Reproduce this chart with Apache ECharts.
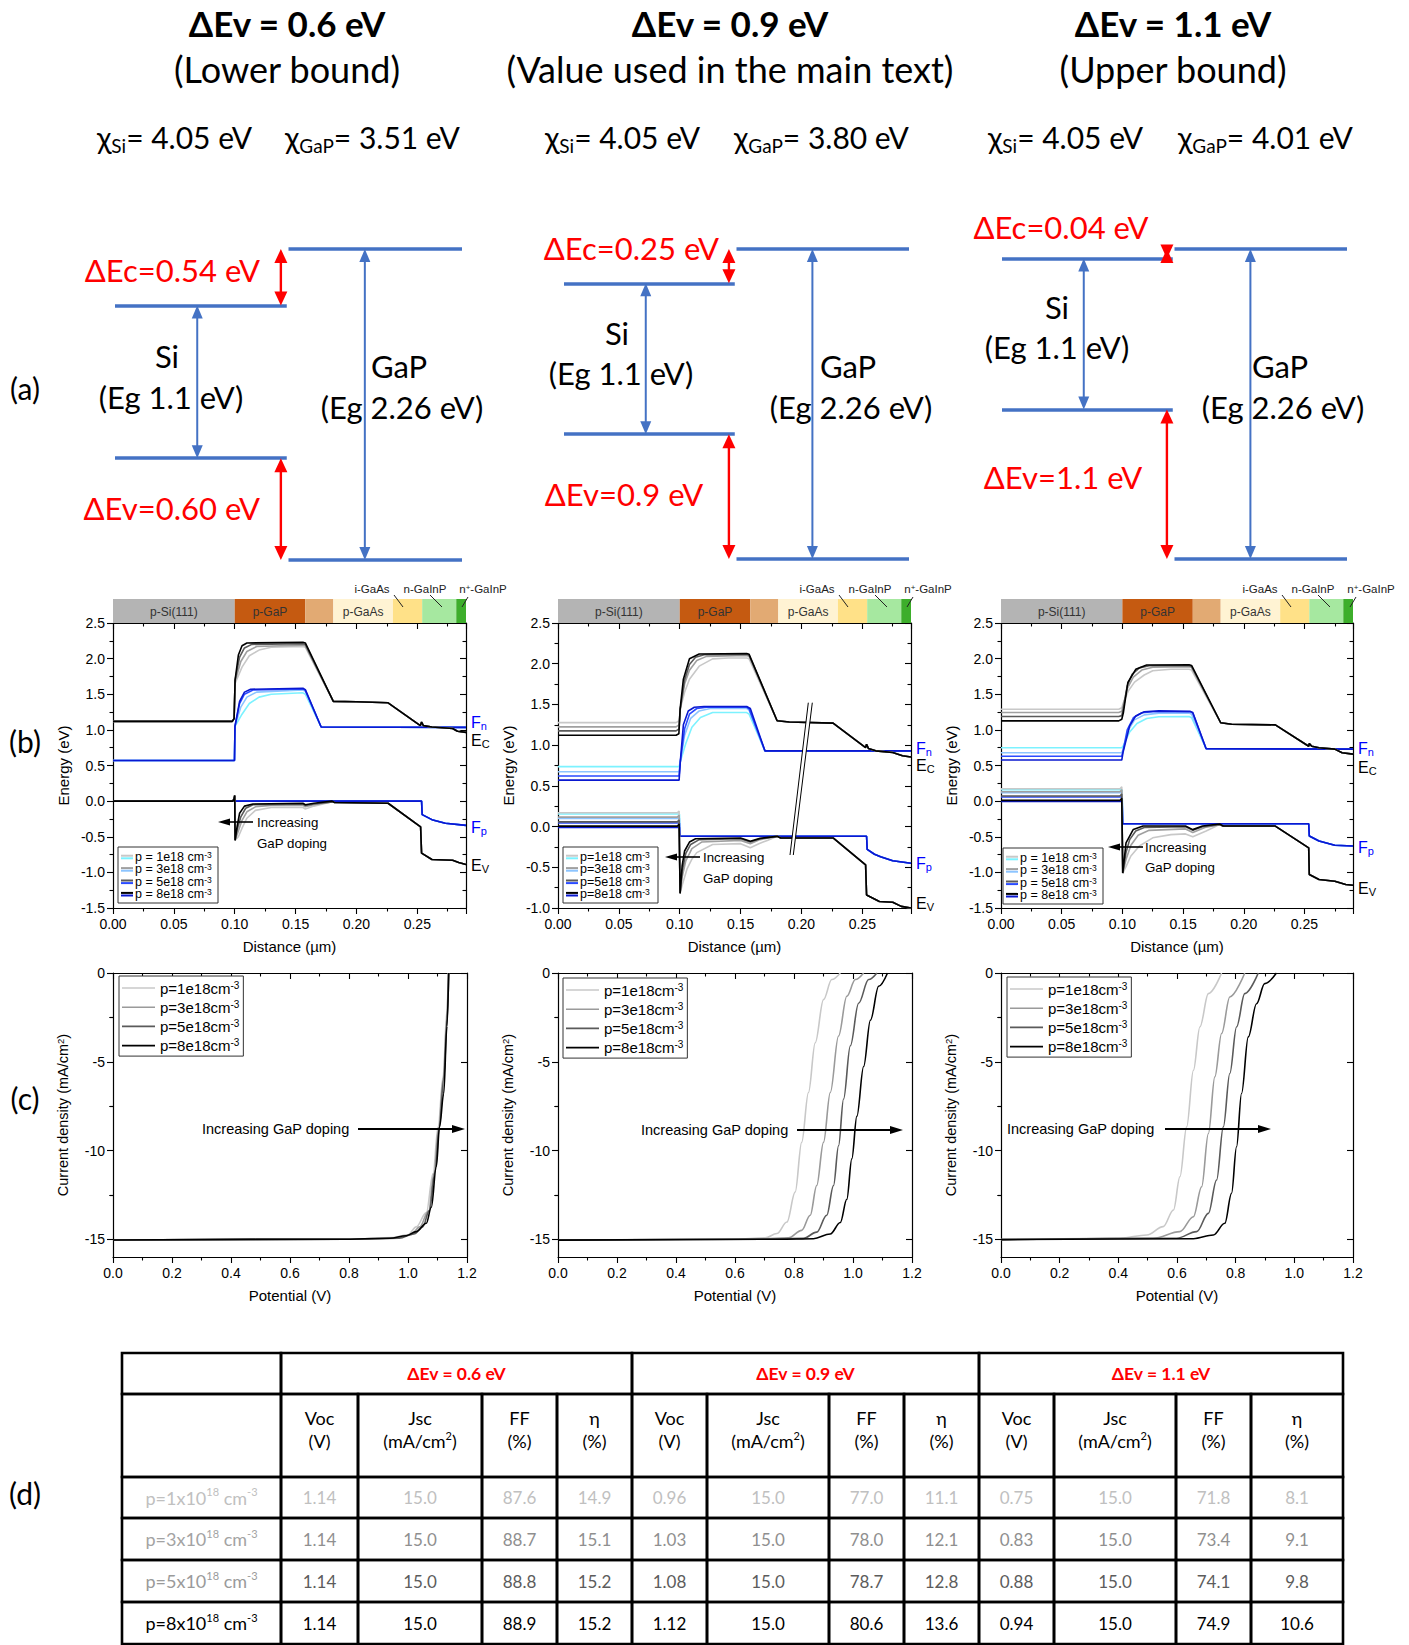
<!DOCTYPE html>
<html>
<head>
<meta charset="utf-8">
<title>Si/GaP band offsets</title>
<script src="https://cdn.jsdelivr.net/npm/echarts@6/dist/echarts.min.js"></script>
<style>
html,body{margin:0;padding:0;background:#fff;}
#chart{width:1409px;height:1645px;}
</style>
</head>
<body>
<div id="chart"></div>
<script>
// ======================= DATA =======================
// (a) band alignment schematics
const caseTitles = ['ΔEv = 0.6 eV', 'ΔEv = 0.9 eV', 'ΔEv = 1.1 eV'];
const caseNotes = ['(Lower bound)', '(Value used in the main text)', '(Upper bound)'];
const chiSi = ['4.05', '4.05', '4.05'];
const chiGaP = ['3.51', '3.80', '4.01'];
const dEcLabels = ['0.54', '0.25', '0.04'];
const dEvLabels = ['0.60', '0.9', '1.1'];
const egSiLabel = '1.1';
const egGaPLabel = '2.26';
const gapGaP = 2.26;                 // GaP CB above GaP VB (eV)
const siCBLevel = [1.85, 2.01, 2.19]; // Si CB as drawn (eV above GaP VB)
const siVBLevel = [0.74, 0.91, 1.09]; // Si VB as drawn (eV above GaP VB)

// (b) band diagrams
const dopings = ['1e18', '3e18', '5e18', '8e18'];
const layerNames = ['p-Si(111)', 'p-GaP', '', 'p-GaAs', '', '', ''];
const layerEdges = [0, 0.1, 0.158, 0.181, 0.23, 0.254, 0.282, 0.29];

// ΔEv = 0.6 eV
const ecHead06 = [
  [[0,1.12],[0.098,1.12],[0.0995,1.16],[0.1003,1.65],[0.106,1.88],[0.112,2.04],[0.12,2.12],[0.13,2.16],[0.156,2.17],[0.158,2.16]],
  [[0,1.12],[0.098,1.12],[0.0995,1.16],[0.1003,1.68],[0.105,1.96],[0.11,2.10],[0.118,2.17],[0.156,2.19],[0.158,2.18]],
  [[0,1.12],[0.098,1.12],[0.0995,1.16],[0.1003,1.70],[0.104,2.02],[0.108,2.15],[0.114,2.20],[0.156,2.21],[0.158,2.20]],
  [[0,1.12],[0.098,1.12],[0.0995,1.16],[0.1003,1.70],[0.103,2.05],[0.106,2.18],[0.11,2.22],[0.156,2.23],[0.158,2.22]]
];
const ecTail06 = [[0.181,1.40],[0.2,1.395],[0.226,1.38],[0.2525,1.06],[0.2535,1.11],[0.255,1.06],[0.262,1.04],[0.279,1.02],[0.283,0.98],[0.29,0.965]];
const fnHead06 = [
  [[0,0.57],[0.0998,0.57],[0.1002,1.05],[0.106,1.22],[0.112,1.37],[0.12,1.46],[0.13,1.50],[0.156,1.52],[0.158,1.50]],
  [[0,0.57],[0.0998,0.57],[0.1002,1.05],[0.105,1.32],[0.11,1.46],[0.118,1.53],[0.156,1.56],[0.158,1.54]],
  [[0,0.57],[0.0998,0.57],[0.1002,1.05],[0.104,1.37],[0.108,1.50],[0.115,1.56],[0.156,1.575],[0.158,1.555]],
  [[0,0.57],[0.0998,0.57],[0.1002,1.05],[0.104,1.40],[0.108,1.53],[0.113,1.57],[0.156,1.585],[0.158,1.565]]
];
const fnTail06 = [[0.171,1.04],[0.29,1.035]];
const evHead06 = [
  [[0,0],[0.0985,0],[0.0995,0.04],[0.1,0.08],[0.1003,-0.55],[0.103,-0.50],[0.106,-0.38],[0.11,-0.24],[0.117,-0.13],[0.13,-0.09],[0.156,-0.09],[0.158,-0.11],[0.165,-0.07],[0.18,-0.01]],
  [[0,0],[0.0985,0],[0.0995,0.04],[0.1,0.08],[0.1003,-0.55],[0.103,-0.42],[0.106,-0.27],[0.11,-0.15],[0.117,-0.08],[0.13,-0.06],[0.156,-0.06],[0.158,-0.08],[0.165,-0.05],[0.18,-0.01]],
  [[0,0],[0.0985,0],[0.0995,0.04],[0.1,0.08],[0.1003,-0.55],[0.102,-0.40],[0.105,-0.22],[0.109,-0.10],[0.115,-0.05],[0.156,-0.04],[0.158,-0.06],[0.165,-0.04],[0.18,-0.01]],
  [[0,0],[0.0985,0],[0.0995,0.04],[0.1,0.08],[0.1003,-0.55],[0.102,-0.35],[0.104,-0.17],[0.108,-0.07],[0.115,-0.04],[0.156,-0.03],[0.158,-0.05],[0.165,-0.03],[0.18,0.0]]
];
const evTail06 = [[0.182,-0.02],[0.226,-0.03],[0.2527,-0.36],[0.2535,-0.73],[0.262,-0.82],[0.279,-0.83],[0.284,-0.86],[0.29,-0.89]];
const fpHead06 = [[[0,0],[0.0998,0]],[[0,0],[0.0998,0]],[[0,0],[0.0998,0]],[[0,0],[0.0998,0]]];
const fpTail06 = [[0.1002,0],[0.2535,0],[0.254,-0.19],[0.262,-0.26],[0.273,-0.31],[0.29,-0.34]];

// ΔEv = 0.9 eV
const ecHead09 = [
  [[0,1.277],[0.097,1.277],[0.0995,1.30],[0.1005,1.45],[0.104,1.65],[0.108,1.81],[0.116,1.97],[0.127,2.06],[0.14,2.07],[0.155,2.07],[0.157,2.06]],
  [[0,1.224],[0.097,1.224],[0.0995,1.25],[0.1005,1.45],[0.104,1.75],[0.108,1.92],[0.114,2.04],[0.122,2.09],[0.155,2.10],[0.157,2.09]],
  [[0,1.175],[0.097,1.175],[0.0995,1.20],[0.1005,1.45],[0.104,1.80],[0.108,1.99],[0.113,2.08],[0.12,2.11],[0.155,2.115],[0.157,2.105]],
  [[0,1.121],[0.097,1.121],[0.0993,1.14],[0.1003,1.44],[0.103,1.81],[0.108,2.06],[0.116,2.12],[0.155,2.125],[0.157,2.115]]
];
const ecTail09 = [[0.18,1.30],[0.19,1.285],[0.226,1.27],[0.2527,0.97],[0.2535,1.01],[0.255,0.96],[0.261,0.93],[0.275,0.91],[0.283,0.87],[0.29,0.855]];
const fnHead09 = [
  [[0,0.736],[0.0995,0.736],[0.1005,0.80],[0.105,1.02],[0.11,1.22],[0.117,1.34],[0.127,1.40],[0.155,1.40],[0.157,1.38]],
  [[0,0.674],[0.0995,0.674],[0.1005,0.80],[0.104,1.12],[0.109,1.33],[0.116,1.42],[0.125,1.45],[0.155,1.45],[0.157,1.43]],
  [[0,0.621],[0.0995,0.621],[0.1005,0.80],[0.104,1.20],[0.108,1.38],[0.114,1.45],[0.122,1.465],[0.155,1.465],[0.157,1.445]],
  [[0,0.571],[0.0995,0.571],[0.1005,0.80],[0.103,1.25],[0.107,1.42],[0.112,1.465],[0.12,1.475],[0.155,1.475],[0.158,1.45]]
];
const fnTail09 = [[0.17,0.93],[0.29,0.93]];
const evHead09 = [
  [[0,0.169],[0.098,0.169],[0.0995,0.19],[0.1003,-0.82],[0.102,-0.72],[0.106,-0.52],[0.11,-0.40],[0.114,-0.32],[0.127,-0.22],[0.15,-0.21],[0.158,-0.26],[0.165,-0.21],[0.172,-0.17],[0.18,-0.12]],
  [[0,0.116],[0.098,0.116],[0.0995,0.14],[0.1003,-0.82],[0.102,-0.62],[0.105,-0.42],[0.11,-0.27],[0.118,-0.19],[0.15,-0.17],[0.158,-0.21],[0.166,-0.16],[0.18,-0.12]],
  [[0,0.058],[0.098,0.058],[0.0995,0.08],[0.1003,-0.82],[0.102,-0.55],[0.105,-0.33],[0.109,-0.22],[0.116,-0.16],[0.15,-0.15],[0.158,-0.19],[0.166,-0.15],[0.18,-0.12]],
  [[0,0.005],[0.098,0.005],[0.0995,0.03],[0.1003,-0.82],[0.102,-0.48],[0.104,-0.30],[0.108,-0.19],[0.113,-0.15],[0.15,-0.14],[0.158,-0.18],[0.166,-0.145],[0.18,-0.12]]
];
const evTail09 = [[0.183,-0.14],[0.226,-0.14],[0.2527,-0.47],[0.2535,-0.84],[0.264,-0.92],[0.275,-0.93],[0.282,-0.98],[0.29,-1.0]];
const fpHead09 = [[[0,0.154],[0.0998,0.154]],[[0,0.101],[0.0998,0.101]],[[0,0.043],[0.0998,0.043]],[[0,-0.01],[0.0998,-0.01]]];
const fpTail09 = [[0.1002,-0.118],[0.2535,-0.118],[0.254,-0.28],[0.26,-0.34],[0.265,-0.37],[0.275,-0.42],[0.29,-0.45]];

// ΔEv = 1.1 eV
const ecHead11 = [
  [[0,1.29],[0.097,1.29],[0.0995,1.31],[0.1008,1.38],[0.105,1.55],[0.11,1.67],[0.118,1.77],[0.125,1.83],[0.14,1.85],[0.155,1.85],[0.157,1.84]],
  [[0,1.243],[0.097,1.243],[0.0995,1.26],[0.1008,1.35],[0.104,1.58],[0.109,1.74],[0.116,1.84],[0.125,1.88],[0.155,1.885],[0.157,1.875]],
  [[0,1.187],[0.097,1.187],[0.0995,1.20],[0.1008,1.30],[0.104,1.62],[0.108,1.78],[0.114,1.87],[0.122,1.90],[0.155,1.90],[0.157,1.89]],
  [[0,1.126],[0.097,1.126],[0.0995,1.15],[0.1008,1.24],[0.1045,1.665],[0.111,1.85],[0.12,1.91],[0.155,1.915],[0.157,1.905]]
];
const ecTail11 = [[0.181,1.10],[0.19,1.08],[0.226,1.07],[0.2535,0.77],[0.254,0.81],[0.256,0.77],[0.262,0.75],[0.275,0.73],[0.281,0.68],[0.29,0.66]];
const fnHead11 = [
  [[0,0.75],[0.0995,0.75],[0.1005,0.77],[0.106,0.97],[0.112,1.09],[0.12,1.16],[0.13,1.185],[0.155,1.187],[0.157,1.17]],
  [[0,0.68],[0.0995,0.68],[0.1005,0.72],[0.105,1.0],[0.11,1.14],[0.118,1.21],[0.13,1.235],[0.155,1.235],[0.157,1.22]],
  [[0,0.63],[0.0995,0.63],[0.1005,0.70],[0.104,1.0],[0.109,1.17],[0.116,1.24],[0.125,1.255],[0.156,1.255],[0.158,1.235]],
  [[0,0.577],[0.0995,0.577],[0.1005,0.68],[0.106,1.056],[0.111,1.196],[0.118,1.255],[0.13,1.267],[0.156,1.26],[0.158,1.243]]
];
const fnTail11 = [[0.169,0.735],[0.29,0.73]];
const evHead11 = [
  [[0,0.174],[0.098,0.174],[0.0995,0.20],[0.1003,-1.01],[0.103,-0.92],[0.107,-0.77],[0.114,-0.63],[0.125,-0.515],[0.14,-0.47],[0.152,-0.46],[0.158,-0.50],[0.169,-0.42],[0.18,-0.33]],
  [[0,0.132],[0.098,0.132],[0.0995,0.16],[0.1003,-1.01],[0.103,-0.82],[0.107,-0.62],[0.113,-0.48],[0.122,-0.41],[0.152,-0.39],[0.158,-0.44],[0.168,-0.37],[0.18,-0.33]],
  [[0,0.071],[0.098,0.071],[0.0995,0.10],[0.1003,-1.01],[0.103,-0.72],[0.106,-0.54],[0.111,-0.42],[0.118,-0.37],[0.152,-0.36],[0.158,-0.41],[0.166,-0.36],[0.18,-0.33]],
  [[0,0.010],[0.098,0.010],[0.0995,0.04],[0.1003,-1.01],[0.103,-0.586],[0.109,-0.398],[0.117,-0.35],[0.152,-0.35],[0.158,-0.40],[0.166,-0.35],[0.18,-0.32]]
];
const evTail11 = [[0.183,-0.35],[0.226,-0.35],[0.2535,-0.656],[0.254,-1.03],[0.262,-1.10],[0.275,-1.125],[0.284,-1.17],[0.29,-1.18]];
const fpHead11 = [[[0,0.16],[0.0998,0.16]],[[0,0.117],[0.0998,0.117]],[[0,0.057],[0.0998,0.057]],[[0,-0.005],[0.0998,-0.005]]];
const fpTail11 = [[0.1002,-0.318],[0.2535,-0.318],[0.254,-0.49],[0.262,-0.56],[0.275,-0.62],[0.29,-0.63]];

// (c) J-V curves  [V, mA/cm2]
const jv06 = [
  [[0,-15.04],[0.8,-15.0],[0.95,-14.9],[1.0,-14.75],[1.028,-14.3],[1.062,-13.5],[1.085,-11.3],[1.102,-8.66],[1.119,-5.85],[1.132,-2.1],[1.137,0]],
  [[0,-15.04],[0.8,-15.0],[0.96,-14.93],[1.01,-14.75],[1.04,-14.3],[1.07,-13.4],[1.088,-11.3],[1.104,-8.7],[1.12,-5.9],[1.132,-2.5],[1.137,0]],
  [[0,-15.04],[0.8,-15.0],[0.97,-14.94],[1.02,-14.7],[1.05,-14.3],[1.072,-13.4],[1.092,-11.2],[1.106,-8.7],[1.121,-6.0],[1.133,-2.6],[1.138,0]],
  [[0,-15.04],[0.768,-15.0],[0.938,-14.94],[0.994,-14.8],[1.028,-14.57],[1.062,-14.1],[1.079,-13.2],[1.096,-10.9],[1.107,-8.66],[1.121,-6.8],[1.132,-3.0],[1.138,0]]
];
const jv09 = [
  [[0,-15.05],[0.6,-15.0],[0.702,-14.92],[0.742,-14.68],[0.776,-14.03],[0.804,-12.34],[0.826,-9.54],[0.849,-6.73],[0.872,-3.93],[0.9,-1.5],[0.928,-0.37],[0.957,0]],
  [[0,-15.05],[0.65,-15.0],[0.781,-14.92],[0.826,-14.5],[0.855,-13.65],[0.877,-11.97],[0.9,-9.54],[0.923,-6.73],[0.951,-3.55],[0.979,-1.31],[1.008,-0.37],[1.036,0]],
  [[0,-15.05],[0.7,-15.0],[0.832,-14.95],[0.877,-14.6],[0.911,-13.65],[0.934,-11.97],[0.951,-9.73],[0.968,-7.1],[0.991,-4.1],[1.019,-1.7],[1.053,-0.37],[1.081,0]],
  [[0,-15.05],[0.75,-15.0],[0.866,-14.97],[0.923,-14.7],[0.957,-14.06],[0.979,-12.75],[0.996,-10.47],[1.013,-8.08],[1.036,-5.27],[1.059,-2.66],[1.087,-0.75],[1.117,0]]
];
const jv11 = [
  [[0,-15.02],[0.406,-14.94],[0.497,-14.76],[0.553,-14.29],[0.588,-13.35],[0.61,-11.48],[0.633,-8.66],[0.656,-5.48],[0.678,-3.04],[0.707,-1.16],[0.752,0]],
  [[0,-15.02],[0.519,-14.94],[0.61,-14.57],[0.656,-13.73],[0.684,-12.04],[0.707,-9.04],[0.729,-5.85],[0.752,-3.41],[0.78,-1.35],[0.831,0]],
  [[0,-15.02],[0.599,-14.94],[0.667,-14.57],[0.707,-13.54],[0.735,-11.66],[0.758,-8.66],[0.78,-5.66],[0.803,-3.04],[0.831,-1.16],[0.877,0]],
  [[0,-15.02],[0.656,-14.97],[0.724,-14.76],[0.763,-14.1],[0.786,-12.41],[0.803,-9.79],[0.82,-6.79],[0.843,-3.6],[0.871,-1.73],[0.899,-0.6],[0.939,0]]
];

// (d) table
const tableDopingMant = ['1', '3', '5', '8'];
const voc06 = [1.14, 1.14, 1.14, 1.14], jsc06 = [15.0, 15.0, 15.0, 15.0], ff06 = [87.6, 88.7, 88.8, 88.9], eta06 = [14.9, 15.1, 15.2, 15.2];
const voc09 = [0.96, 1.03, 1.08, 1.12], jsc09 = [15.0, 15.0, 15.0, 15.0], ff09 = [77.0, 78.0, 78.7, 80.6], eta09 = [11.1, 12.1, 12.8, 13.6];
const voc11 = [0.75, 0.83, 0.88, 0.94], jsc11 = [15.0, 15.0, 15.0, 15.0], ff11 = [71.8, 73.4, 74.1, 74.9], eta11 = [8.1, 9.1, 9.8, 10.6];

// ======================= LAYOUT / STYLE =======================
const FP = "'Liberation Sans', Arial, Helvetica, sans-serif";
const FT = "Lato, 'Open Sans', 'Noto Sans', sans-serif";
const greyCols = ['#c8c8c8', '#a0a0a0', '#5a5a5a', '#000000'];
const blueCols = ['#7cf2ff', '#8cc4ff', '#2a4bff', '#0a18d0'];
const jvCols = ['#c8c8c8', '#9a9a9a', '#5a5a5a', '#000000'];
const layerCols = ['#b4b4b4', '#c55a11', '#e2aa73', '#fff3d3', '#ffe188', '#a6e8a0', '#3dae2b'];
const aGrid = [{left:115, width:347}, {left:564, width:345}, {left:1002, width:345}];
const bGrid = [{left:113, width:353}, {left:558, width:353}, {left:1001, width:352}];
const cGrid = [{left:113, width:354}, {left:558, width:354}, {left:1001, width:352}];
const bYMin = [-1.5, -1.0, -1.5];

const option = {animation:false, backgroundColor:'#fff', grid:[], xAxis:[], yAxis:[], series:[], legend:[], graphic:{elements:[]}};
const G = option.graphic.elements;
function addGrid(r){ option.grid.push(Object.assign({show:false, containLabel:false}, r)); return option.grid.length - 1; }
function addX(c){ option.xAxis.push(c); return option.xAxis.length - 1; }
function addY(c){ option.yAxis.push(c); return option.yAxis.length - 1; }
function txt(x, y, text, st){ G.push({type:'text', x:x, y:y, z:60, silent:true, style:Object.assign({text:text, fill:'#000', fontFamily:FT, fontSize:31, align:'center', verticalAlign:'middle'}, st || {})}); }
function seg(x1, y1, x2, y2, st){ G.push({type:'line', z:60, silent:true, shape:{x1:x1, y1:y1, x2:x2, y2:y2}, style:Object.assign({stroke:'#000', lineWidth:1}, st || {})}); }
function poly(pts, st){ G.push({type:'polygon', z:60, silent:true, shape:{points:pts}, style:Object.assign({fill:'#000'}, st || {})}); }
function box(x, y, w, h, st){ G.push({type:'rect', z:55, silent:true, shape:{x:x, y:y, width:w, height:h}, style:Object.assign({fill:'#fff', stroke:'#333', lineWidth:1}, st || {})}); }
function hiddenAxes(gi, xmin, xmax, ymin, ymax, inv){
  return {xi:addX({gridIndex:gi, type:'value', min:xmin, max:xmax, show:false}),
          yi:addY({gridIndex:gi, type:'value', min:ymin, max:ymax, show:false, inverse:!!inv})};
}
const lineSt = {color:'#000', width:1.2};
const tickSt = {color:'#000', width:1.1};
const labSt = {color:'#000', fontSize:14, fontFamily:FP};
function frameAxes(gi, o){
  const common = {gridIndex:gi, type:'value', splitLine:{show:false}, minorSplitLine:{show:false}};
  const xi = addX(Object.assign({}, common, {position:'bottom', min:o.xmin, max:o.xmax, interval:o.xint,
    axisLine:{show:true, onZero:false, lineStyle:lineSt},
    axisTick:{show:true, inside:false, length:6, lineStyle:tickSt},
    minorTick:{show:true, splitNumber:2, length:3.5, lineStyle:tickSt},
    axisLabel:Object.assign({margin:9, formatter:o.fx, showMaxLabel:o.showMaxX}, labSt),
    name:o.xname, nameLocation:'middle', nameGap:31, nameTextStyle:{color:'#000', fontSize:15, fontFamily:FP}}));
  addX(Object.assign({}, common, {position:'top', min:o.xmin, max:o.xmax, interval:o.xint,
    axisLine:{show:true, onZero:false, lineStyle:lineSt},
    axisTick:{show:true, inside:true, length:6, lineStyle:tickSt},
    minorTick:{show:true, splitNumber:2, length:3.5, lineStyle:tickSt},
    axisLabel:{show:false}}));
  const yBase = {min:o.ymin, max:o.ymax};
  if (o.yint) yBase.interval = o.yint;
  const yi = addY(Object.assign({}, common, yBase, {position:'left',
    axisLine:{show:true, onZero:false, lineStyle:lineSt},
    axisTick:Object.assign({show:true, inside:false, length:6, lineStyle:tickSt}, o.yTicks ? {customValues:o.yTicks} : {}),
    minorTick:{show:!o.yTicks, splitNumber:2, length:3.5, lineStyle:tickSt},
    axisLabel:Object.assign({margin:8, formatter:o.fy}, labSt, o.yTicks ? {customValues:o.yTicks} : {}),
    name:o.yname, nameLocation:'middle', nameGap:o.ygap || 42,
    nameTextStyle:Object.assign({color:'#000', fontSize:15, fontFamily:FP}, o.yrich ? {rich:o.yrich} : {})}));
  addY(Object.assign({}, common, yBase, {position:'right',
    axisLine:{show:true, onZero:false, lineStyle:lineSt},
    axisTick:Object.assign({show:true, inside:true, length:6, lineStyle:tickSt}, o.yTicks ? {customValues:o.yTicks} : {}),
    minorTick:{show:!o.yTicks, splitNumber:2, length:3.5, lineStyle:tickSt},
    axisLabel:{show:false}}));
  if (o.yMinorTicks) {
    addY(Object.assign({}, common, yBase, {position:'left', axisLine:{show:false}, axisLabel:{show:false},
      axisTick:{show:true, inside:false, length:3.5, lineStyle:tickSt, customValues:o.yMinorTicks}, minorTick:{show:false}}));
    addY(Object.assign({}, common, yBase, {position:'right', axisLine:{show:false}, axisLabel:{show:false},
      axisTick:{show:true, inside:true, length:3.5, lineStyle:tickSt, customValues:o.yMinorTicks}, minorTick:{show:false}}));
  }
  return {xi:xi, yi:yi};
}
function addLine(ax, data, color, width, name){
  option.series.push({type:'line', name:name, xAxisIndex:ax.xi, yAxisIndex:ax.yi, data:data, symbol:'none', showSymbol:false,
    lineStyle:{color:color, width:width}, itemStyle:{color:color}, silent:true, z:3});
}

// ======================= TITLES & (a) =======================
const colCenter = [287, 730, 1173];
const chiSiX = [97, 545, 988];
const chiGaPX = [285, 734, 1178];
const subRich = {
  m:{fontFamily:FT, fontSize:30, lineHeight:36, fill:'#000', color:'#000'},
  s:{fontFamily:FT, fontSize:19, lineHeight:16, verticalAlign:'bottom', fill:'#000', color:'#000'}
};
for (let p = 0; p < 3; p++) {
  txt(colCenter[p], 23, caseTitles[p], {fontSize:35, fontWeight:'bold'});
  txt(colCenter[p], 69, caseNotes[p], {fontSize:36});
  txt(chiSiX[p], 137, '{m|χ}{s|Si}{m|= ' + chiSi[p] + ' eV}', {align:'left', rich:subRich});
  txt(chiGaPX[p], 137, '{m|χ}{s|GaP}{m|= ' + chiGaP[p] + ' eV}', {align:'left', rich:subRich});
}
txt(25, 388, '(a)', {fontSize:30});
txt(25, 741, '(b)', {fontSize:30});
txt(25, 1098, '(c)', {fontSize:30});
txt(25, 1493, '(d)', {fontSize:30});

const siEnd = 0.495, gapStart = 0.5, siArrowX = 0.237, gapArrowX = 0.72, offArrowX = 0.478;
const arrowStyles = [
  {color:'#4472c4', lw:2, w:11, len:13},
  {color:'#ff0000', lw:2.4, w:13, len:14}
];
for (let p = 0; p < 3; p++) {
  const pxPerEv = (p === 0 ? 311 : 310) / gapGaP;
  const gi = addGrid({left:aGrid[p].left, width:aGrid[p].width, top:249 - 0.2 * pxPerEv, height:2.66 * pxPerEv});
  const ax = hiddenAxes(gi, 0, 1, -0.2, 2.46);
  const cb = siCBLevel[p], vb = siVBLevel[p];
  option.series.push({type:'lines', coordinateSystem:'cartesian2d', xAxisIndex:ax.xi, yAxisIndex:ax.yi, silent:true, z:3,
    symbol:'none', lineStyle:{color:'#4472c4', width:3.5, opacity:1},
    data:[{coords:[[0, cb], [siEnd, cb]]}, {coords:[[0, vb], [siEnd, vb]]},
          {coords:[[gapStart, gapGaP], [1, gapGaP]]}, {coords:[[gapStart, 0], [1, 0]]}]});
  // double-headed arrows: [x, yFrom, yTo, style]
  option.series.push({type:'custom', xAxisIndex:ax.xi, yAxisIndex:ax.yi, silent:true, z:4, clip:false,
    data:[[siArrowX, vb, cb, 0], [gapArrowX, 0, gapGaP, 0], [offArrowX, cb, gapGaP, 1], [offArrowX, 0, vb, 1]],
    renderItem:(params, api) => {
      const st = arrowStyles[api.value(3)];
      const a = api.coord([api.value(0), api.value(1)]);  // lower end
      const b = api.coord([api.value(0), api.value(2)]);  // upper end
      const h = st.w / 2, L = st.len;
      return {type:'group', children:[
        {type:'line', shape:{x1:a[0], y1:a[1] - L * 0.5, x2:b[0], y2:b[1] + L * 0.5}, style:{stroke:st.color, lineWidth:st.lw}},
        {type:'polygon', shape:{points:[[b[0], b[1]], [b[0] - h, b[1] + L], [b[0] + h, b[1] + L]]}, style:{fill:st.color}},
        {type:'polygon', shape:{points:[[a[0], a[1]], [a[0] - h, a[1] - L], [a[0] + h, a[1] - L]]}, style:{fill:st.color}}
      ]};
    }});
}
const red = '#ff0000';
// left
txt(260, 270, 'ΔEc=' + dEcLabels[0] + ' eV', {align:'right', fill:red});
txt(260, 508, 'ΔEv=' + dEvLabels[0] + ' eV', {align:'right', fill:red});
txt(167, 356, 'Si'); txt(171, 397, '(Eg ' + egSiLabel + ' eV)');
txt(399, 366, 'GaP'); txt(402, 407, '(Eg ' + egGaPLabel + ' eV)');
// middle
txt(719, 248, 'ΔEc=' + dEcLabels[1] + ' eV', {align:'right', fill:red});
txt(624, 494, 'ΔEv=' + dEvLabels[1] + ' eV', {fill:red});
txt(617, 333, 'Si'); txt(621, 373, '(Eg ' + egSiLabel + ' eV)');
txt(848, 366, 'GaP'); txt(851, 407, '(Eg ' + egGaPLabel + ' eV)');
// right
txt(1061, 227, 'ΔEc=' + dEcLabels[2] + ' eV', {fill:red});
txt(1063, 477, 'ΔEv=' + dEvLabels[2] + ' eV', {fill:red});
txt(1057, 307, 'Si'); txt(1057, 347, '(Eg ' + egSiLabel + ' eV)');
txt(1280, 366, 'GaP'); txt(1283, 407, '(Eg ' + egGaPLabel + ' eV)');

// ======================= (b) band diagrams =======================
const bandSets = [
  {ecH:ecHead06, ecT:ecTail06, evH:evHead06, evT:evTail06, fnH:fnHead06, fnT:fnTail06, fpH:fpHead06, fpT:fpTail06},
  {ecH:ecHead09, ecT:ecTail09, evH:evHead09, evT:evTail09, fnH:fnHead09, fnT:fnTail09, fpH:fpHead09, fpT:fpTail09},
  {ecH:ecHead11, ecT:ecTail11, evH:evHead11, evT:evTail11, fnH:fnHead11, fnT:fnTail11, fpH:fpHead11, fpT:fpTail11}
];
const fLabX = [471, 916, 1358];
const fLabY = [[722, 740, 827, 865], [748, 765, 863, 903], [748, 767, 847, 888]];
const fRich = {
  m:{fontFamily:FP, fontSize:16, lineHeight:18},
  s:{fontFamily:FP, fontSize:11, lineHeight:9, verticalAlign:'bottom'}
};
function withColor(rich, c){ const r = {}; for (const k in rich) r[k] = Object.assign({}, rich[k], {fill:c, color:c}); return r; }
const legRich = {
  m:{fontFamily:FP, fontSize:12.5, lineHeight:13},
  u:{fontFamily:FP, fontSize:8.5, lineHeight:8, verticalAlign:'top'}
};
const bLegBox = [[118, 847, 100, 56], [563, 847, 95, 56], [1003, 848, 100, 56]];
const bLegFmt = [d => 'p = ' + d + ' cm', d => 'p=' + d + ' cm', d => 'p = ' + d + ' cm'];
const incB = [[218, 230, 253, 822, 257, 843], [665, 677, 700, 857, 703, 878], [1108, 1120, 1143, 847, 1145, 867]];

for (let p = 0; p < 3; p++) {
  const gl = bGrid[p].left, gw = bGrid[p].width;
  // layer bar
  const lg = addGrid({left:gl, width:gw, top:599, height:24});
  const lax = hiddenAxes(lg, 0, 0.29, 0, 1);
  option.series.push({type:'custom', xAxisIndex:lax.xi, yAxisIndex:lax.yi, silent:true, z:2, clip:false,
    data:layerNames.map((n, i) => [layerEdges[i], layerEdges[i + 1]]),
    renderItem:(params, api) => {
      const i = params.dataIndex;
      const a = api.coord([api.value(0), 1]), b = api.coord([api.value(1), 0]);
      return {type:'group', children:[
        {type:'rect', shape:{x:a[0], y:a[1], width:b[0] - a[0], height:b[1] - a[1]}, style:{fill:layerCols[i]}},
        {type:'text', style:{text:layerNames[i], x:(a[0] + b[0]) / 2, y:(a[1] + b[1]) / 2 + 1, align:'center', verticalAlign:'middle', fontFamily:FP, fontSize:12, fill:'#333'}}
      ]};
    }});
  // plot
  const g = addGrid({left:gl, width:gw, top:623, height:285});
  const ax = frameAxes(g, {xmin:0, xmax:0.29, xint:0.05, ymin:bYMin[p], ymax:2.5, yint:0.5,
    fx:v => v.toFixed(2), fy:v => v.toFixed(1), showMaxX:false, xname:'Distance (µm)', yname:'Energy (eV)'});
  const S = bandSets[p];
  for (let d = 0; d < 4; d++) {
    addLine(ax, S.fnH[d].concat(S.fnT), blueCols[d], 1.6, 'Fn p=' + dopings[d] + ' ' + caseTitles[p]);
    addLine(ax, S.fpH[d].concat(S.fpT), blueCols[d], 1.6, 'Fp p=' + dopings[d] + ' ' + caseTitles[p]);
  }
  for (let d = 0; d < 4; d++) {
    addLine(ax, S.ecH[d].concat(S.ecT), greyCols[d], 1.6, 'Ec p=' + dopings[d] + ' ' + caseTitles[p]);
    addLine(ax, S.evH[d].concat(S.evT), greyCols[d], 1.6, 'Ev p=' + dopings[d] + ' ' + caseTitles[p]);
  }
  // layer labels above the bar
  const off = gl - 113;
  const lblSt = {fontFamily:FP, fontSize:11.5, fill:'#222'};
  txt(372 + off, 589, 'i-GaAs', lblSt);
  txt(425 + off, 589, 'n-GaInP', lblSt);
  txt(483 + off, 589, '{a|n}{b|+}{a|-GaInP}', Object.assign({}, lblSt, {rich:{a:{fontFamily:FP, fontSize:11.5, fill:'#222'}, b:{fontFamily:FP, fontSize:8, verticalAlign:'top', lineHeight:8, fill:'#222'}}}));
  seg(394 + off, 595, 403 + off, 607, {stroke:'#222'});
  seg(430 + off, 595, 442 + off, 607, {stroke:'#222'});
  seg(468 + off, 597, 462 + off, 607, {stroke:'#222'});
  // F / E labels
  const fx = fLabX[p], fy = fLabY[p];
  txt(fx, fy[0], '{m|F}{s|n}', {align:'left', rich:withColor(fRich, '#0000ff')});
  txt(fx, fy[1], '{m|E}{s|C}', {align:'left', rich:withColor(fRich, '#000')});
  txt(fx, fy[2], '{m|F}{s|p}', {align:'left', rich:withColor(fRich, '#0000ff')});
  txt(fx, fy[3], '{m|E}{s|V}', {align:'left', rich:withColor(fRich, '#000')});
  // increasing doping note
  const ib = incB[p];
  seg(ib[1], ib[3], ib[2], ib[3], {stroke:'#000', lineWidth:1.6});
  poly([[ib[0], ib[3]], [ib[1], ib[3] - 3.5], [ib[1], ib[3] + 3.5]]);
  txt(ib[4], ib[3], 'Increasing', {align:'left', fontFamily:FP, fontSize:13.3});
  txt(ib[4], ib[5], 'GaP doping', {align:'left', fontFamily:FP, fontSize:13.3});
  // legend
  const lb = bLegBox[p];
  box(lb[0], lb[1], lb[2], lb[3]);
  for (let d = 0; d < 4; d++) {
    const y = lb[1] + 10 + d * 12.4;
    seg(lb[0] + 3, y - 1.3, lb[0] + 15, y - 1.3, {stroke:greyCols[d], lineWidth:2});
    seg(lb[0] + 3, y + 1.3, lb[0] + 15, y + 1.3, {stroke:blueCols[d], lineWidth:2});
    txt(lb[0] + 17, y, '{m|' + bLegFmt[p](dopings[d]) + '}{u|-3}', {align:'left', rich:withColor(legRich, '#000')});
  }
}
// axis break mark in the middle band diagram
poly([[790, 855], [808.3, 702.7], [812.3, 702.7], [793.3, 855]], {fill:'#fff'});
seg(790, 855, 808.3, 702.7, {stroke:'#000', lineWidth:1});
seg(793.3, 855, 812.3, 702.7, {stroke:'#000', lineWidth:1});

// ======================= (c) J-V =======================
const jvSets = [jv06, jv09, jv11];
const cLegPos = [[119, 976], [563, 978], [1007, 977]];
const incC = [[202, 358, 452, 465, 1129], [641, 797, 890, 903, 1130], [1007, 1165, 1258, 1271, 1129]];
for (let p = 0; p < 3; p++) {
  const g = addGrid({left:cGrid[p].left, width:cGrid[p].width, top:973, height:284});
  const ax = frameAxes(g, {xmin:0, xmax:1.2, xint:0.2, ymin:-16, ymax:0, yTicks:[-15, -10, -5, 0], yMinorTicks:[-12.5, -7.5, -2.5],
    fx:v => v.toFixed(1), fy:v => String(v), showMaxX:true, xname:'Potential (V)',
    yname:'{a|Current density (mA/cm}{s|2}{a|)}',
    yrich:{a:{fontFamily:FP, fontSize:14.5, color:'#000', lineHeight:16}, s:{fontFamily:FP, fontSize:9.5, color:'#000', verticalAlign:'top', lineHeight:9}}});
  const names = [];
  for (let d = 0; d < 4; d++) {
    const nm = 'p=' + dopings[d] + 'cm-3 [' + caseTitles[p] + ']';
    names.push(nm);
    option.series.push({type:'line', name:nm, xAxisIndex:ax.xi, yAxisIndex:ax.yi, data:jvSets[p][d], symbol:'none', showSymbol:false,
      smooth:0.35, smoothMonotone:'x', lineStyle:{color:jvCols[d], width:1.6}, itemStyle:{color:jvCols[d]}, silent:true, z:3});
  }
  option.legend.push({show:true, orient:'vertical', left:cLegPos[p][0], top:cLegPos[p][1], data:names, selectedMode:false,
    icon:'rect', itemWidth:33, itemHeight:1.6, itemGap:3.7, borderColor:'#333', borderWidth:1, borderRadius:0, padding:[4, 4, 3, 3],
    backgroundColor:'#fff', z:20,
    formatter:n => '{a|' + n.split('cm')[0] + 'cm}{s|-3}',
    textStyle:{fontFamily:FP, fontSize:15, color:'#000',
      rich:{a:{fontFamily:FP, fontSize:15, color:'#000', lineHeight:16}, s:{fontFamily:FP, fontSize:10, color:'#000', verticalAlign:'top', lineHeight:9}}}});
  const ic = incC[p];
  txt(ic[0], ic[4], 'Increasing GaP doping', {align:'left', fontFamily:FP, fontSize:14.5});
  seg(ic[1], ic[4], ic[2], ic[4], {stroke:'#000', lineWidth:1.8});
  poly([[ic[3], ic[4]], [ic[2], ic[4] - 4], [ic[2], ic[4] + 4]]);
}

// ======================= (d) table =======================
const tableColW = [159, 77, 124, 75, 75, 75, 122, 75, 75, 75, 122, 75, 92];
const tableRowH = [41, 83, 41, 42, 42, 42];
const colEdge = [0]; tableColW.forEach(w => colEdge.push(colEdge[colEdge.length - 1] + w));
const rowEdge = [0]; tableRowH.forEach(h => rowEdge.push(rowEdge[rowEdge.length - 1] + h));
const labelCols = ['#c0c0c0', '#a3a3a3', '#9a9a9a', '#000000'];
const valueCols = ['#c0c0c0', '#8f8f8f', '#5c5c5c', '#000000'];
const cells = [];
function cellRich(c, size){ return {t:{fontFamily:FT, fontSize:size || 18, fill:c, lineHeight:23}, u:{fontFamily:FT, fontSize:11, fill:c, verticalAlign:'top', lineHeight:10}, r:{fontFamily:FT, fontSize:17.5, fontWeight:'bold', fill:'#ff0000', lineHeight:21}}; }
cells.push({c0:0, c1:1, r0:0, r1:1, text:'', rich:cellRich('#000'), dy:0});
cells.push({c0:0, c1:1, r0:1, r1:2, text:'', rich:cellRich('#000'), dy:0});
const caseVals = [[voc06, jsc06, ff06, eta06], [voc09, jsc09, ff09, eta09], [voc11, jsc11, ff11, eta11]];
const headTexts = ['{t|Voc}\n{t|(V)}', '{t|Jsc}\n{t|(mA/cm}{u|2}{t|)}', '{t|FF}\n{t|(%)}', '{t|η}\n{t|(%)}'];
const decimals = [2, 1, 1, 1];
for (let p = 0; p < 3; p++) {
  const c0 = 1 + p * 4;
  cells.push({c0:c0, c1:c0 + 4, r0:0, r1:1, text:'{r|' + caseTitles[p] + '}', rich:cellRich('#000'), dy:0});
  for (let k = 0; k < 4; k++) {
    cells.push({c0:c0 + k, c1:c0 + k + 1, r0:1, r1:2, text:headTexts[k], rich:cellRich('#000'), dy:-6});
    for (let r = 0; r < 4; r++) {
      cells.push({c0:c0 + k, c1:c0 + k + 1, r0:2 + r, r1:3 + r, text:'{t|' + caseVals[p][k][r].toFixed(decimals[k]) + '}', rich:cellRich(valueCols[r], 17), dy:0});
    }
  }
}
for (let r = 0; r < 4; r++) {
  cells.push({c0:0, c1:1, r0:2 + r, r1:3 + r, text:'{t|p=' + tableDopingMant[r] + 'x10}{u|18}{t| cm}{u|-3}', rich:cellRich(labelCols[r]), dy:0});
}
const tg = addGrid({left:122, top:1353, width:colEdge[colEdge.length - 1], height:rowEdge[rowEdge.length - 1]});
const tax = hiddenAxes(tg, 0, colEdge[colEdge.length - 1], 0, rowEdge[rowEdge.length - 1], true);
option.series.push({type:'custom', xAxisIndex:tax.xi, yAxisIndex:tax.yi, silent:true, clip:false, z:5,
  data:cells.map(c => [colEdge[c.c0], colEdge[c.c1], rowEdge[c.r0], rowEdge[c.r1]]),
  renderItem:(params, api) => {
    const c = cells[params.dataIndex];
    const a = api.coord([api.value(0), api.value(2)]), b = api.coord([api.value(1), api.value(3)]);
    return {type:'group', children:[
      {type:'rect', shape:{x:a[0], y:a[1], width:b[0] - a[0], height:b[1] - a[1]}, style:{fill:'none', stroke:'#000', lineWidth:2.6}},
      {type:'text', style:{text:c.text, rich:c.rich, x:(a[0] + b[0]) / 2, y:(a[1] + b[1]) / 2 + c.dy, align:'center', verticalAlign:'middle', fontFamily:FT, fontSize:18}}
    ]};
  }});

const chart = echarts.init(document.getElementById('chart'), null, {renderer:'svg', width:1409, height:1645});
chart.setOption(option);
</script>
</body>
</html>
